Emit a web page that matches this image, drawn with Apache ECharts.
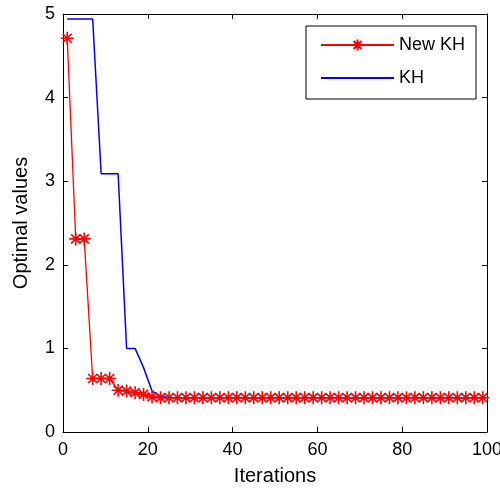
<!DOCTYPE html>
<html>
<head>
<meta charset="utf-8">
<script src="https://cdn.jsdelivr.net/npm/echarts@6/dist/echarts.min.js"></script>
<style>
html,body{margin:0;padding:0;background:#fff;}
#c{width:500px;height:495px;}
</style>
</head>
<body>
<div id="c"></div>
<script>
var iterations = [1,3,5,7,9,11,13,15,17,19,21,23,25,27,29,31,33,35,37,39,41,43,45,47,49,51,53,55,57,59,61,63,65,67,69,71,73,75,77,79,81,83,85,87,89,91,93,95,97,99];
var newKH = [4.71,2.31,2.31,0.64,0.64,0.64,0.50,0.49,0.47,0.45,0.42,0.41,0.41,0.41,0.41,0.41,0.41,0.41,0.41,0.41,0.41,0.41,0.41,0.41,0.41,0.41,0.41,0.41,0.41,0.41,0.41,0.41,0.41,0.41,0.41,0.41,0.41,0.41,0.41,0.41,0.41,0.41,0.41,0.41,0.41,0.41,0.41,0.41,0.41,0.41];
var KH = [4.94,4.94,4.94,4.94,3.09,3.09,3.09,1.00,1.00,0.77,0.49,0.43,0.41,0.41,0.41,0.41,0.41,0.41,0.41,0.41,0.41,0.41,0.41,0.41,0.41,0.41,0.41,0.41,0.41,0.41,0.41,0.41,0.41,0.41,0.41,0.41,0.41,0.41,0.41,0.41,0.41,0.41,0.41,0.41,0.41,0.41,0.41,0.41,0.41,0.41];
var xTicks = [0,20,40,60,80,100];
var yTicks = [0,1,2,3,4,5];

function pairs(xs, ys){ return xs.map(function(x,i){ return [x, ys[i]]; }); }

var FONT = 'Liberation Sans, Arial, sans-serif';
var star = 'path://M0,-10L0,10M-10,0L10,0M-7,-7L7,7M-7,7L7,-7';

var chart = echarts.init(document.getElementById('c'), null, {renderer:'canvas'});
var axisCommon = {
  axisLine:{show:true, onZero:false, lineStyle:{color:'#000', width:1}},
  axisTick:{show:true, inside:true, length:5, lineStyle:{color:'#000'}},
  splitLine:{show:false}
};
chart.setOption({
  animation:false,
  backgroundColor:'#fff',
  grid:{left:63, right:13, top:14, bottom:63, containLabel:false, outerBoundsMode:'none'},
  legend:{
    orient:'vertical', right:24, top:26,
    backgroundColor:'#fff', borderColor:'#000', borderWidth:1,
    padding:[10,11,12,14], itemGap:15, itemWidth:73, itemHeight:14,
    textStyle:{fontFamily:FONT, fontSize:18, color:'#000'},
    data:['New KH', {name:'KH', itemStyle:{opacity:0}}]
  },
  xAxis:[
    Object.assign({type:'value', min:0, max:100, interval:20, position:'bottom',
      name:'Iterations', nameLocation:'middle', nameGap:34,
      nameTextStyle:{fontFamily:FONT, fontSize:20, color:'#000'},
      axisLabel:{fontFamily:FONT, fontSize:18, color:'#000', margin:9,
        formatter:function(v){ return xTicks.indexOf(v)>=0 ? String(v) : ''; }}}, axisCommon),
    Object.assign({type:'value', min:0, max:100, interval:20, position:'top', axisLabel:{show:false}}, axisCommon)
  ],
  yAxis:[
    Object.assign({type:'value', min:0, max:5, interval:1, position:'left',
      name:'Optimal values', nameLocation:'middle', nameGap:32,
      nameTextStyle:{fontFamily:FONT, fontSize:20, color:'#000'},
      axisLabel:{fontFamily:FONT, fontSize:18, color:'#000', margin:8,
        formatter:function(v){ return yTicks.indexOf(v)>=0 ? String(v) : ''; }}}, axisCommon),
    Object.assign({type:'value', min:0, max:5, interval:1, position:'right', axisLabel:{show:false}}, axisCommon)
  ],
  series:[
    {
      name:'KH', type:'line', data:pairs(iterations, KH), z:2,
      symbol:'none',
      lineStyle:{color:'#0000ff', width:1.5}, itemStyle:{color:'#0000ff'}
    },
    {
      name:'New KH', type:'line', data:pairs(iterations, newKH), z:3,
      symbol:star, symbolSize:13,
      lineStyle:{color:'#ff0000', width:1.3},
      itemStyle:{color:'#ff0000', borderColor:'#ff0000', borderWidth:1.6}
    }
  ]
});
</script>
</body>
</html>
